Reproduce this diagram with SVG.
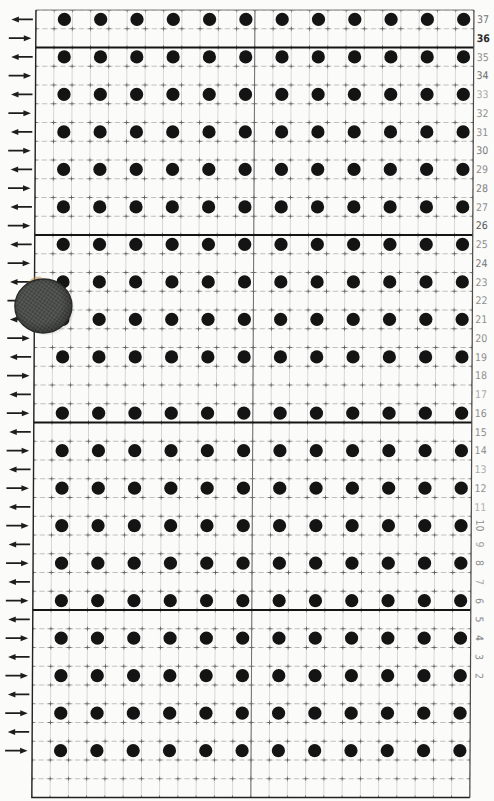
<svg xmlns="http://www.w3.org/2000/svg" xmlns:xlink="http://www.w3.org/1999/xlink" width="494" height="801" viewBox="0 0 494 801">
<style>
.thick{stroke:#151515;stroke-width:2;fill:none}
.border{stroke:#222;stroke-width:1.4;fill:none}
.dot{fill:#141414}
.lbl{font-family:"DejaVu Sans Condensed","DejaVu Sans",sans-serif;font-size:10.5px;fill:#8e8e8e}
.arr{stroke:#1d1d1d;stroke-width:1.6;fill:none}
.head{fill:#1d1d1d}
</style>
<defs>
<pattern id="grid" patternUnits="userSpaceOnUse" x="26.875" y="0.625" width="18.25" height="18.75">
<line x1="9.125" y1="0" x2="9.125" y2="18.75" stroke="#cdcdcd" stroke-width="0.8"/>
<line x1="0" y1="9.375" x2="18.25" y2="9.375" stroke="#b0b0b0" stroke-width="0.8" stroke-dasharray="2.6 2.6"/>
<path d="M7 9.375h4.25M9.125 7.5v3.75" stroke="#666" stroke-width="1"/>
</pattern>
<pattern id="mesh" patternUnits="userSpaceOnUse" width="3.2" height="3.2" patternTransform="rotate(35)">
<rect width="3.2" height="3.2" fill="#404240"/>
<path d="M0 0.6H3.2M0.6 0V3.2" stroke="#5f615d" stroke-width="0.7"/>
</pattern>
<radialGradient id="shade" cx="0.45" cy="0.45" r="0.6">
<stop offset="0.6" stop-color="#000" stop-opacity="0"/>
<stop offset="1" stop-color="#000" stop-opacity="0.35"/>
</radialGradient>
<g id="la"><path class="arr" d="M17 0H33"/><path class="head" d="M11.5 0L19 -3L19 3Z"/></g>
<g id="ra"><path class="arr" d="M9 0H26"/><path class="head" d="M31.5 0L24 -3L24 3Z"/></g>
</defs>
<rect width="494" height="801" fill="#fbfbfa"/>
<g transform="skewX(-0.3)">
<g id="grid-lines">
<rect x="36" y="10" width="438" height="787.5" fill="url(#grid)"/>
<line x1="36" y1="10" x2="474" y2="10" stroke="#7a7a7a" stroke-width="1"/>
<line x1="255" y1="10" x2="255" y2="797.5" stroke="#6e6e6e" stroke-width="1"/>
<path class="thick" d="M36 47.5H474M36 235H474M36 422.5H474M36 610H474"/>
<path class="border" d="M36 10V797.5H474"/>
<line x1="474" y1="10" x2="474" y2="797.5" stroke="#4a4a4a" stroke-width="1.2"/>
</g>
<g id="dots">
<g id="dot-rows-top">
<g transform="translate(0,19.375)"><circle class="dot" cx="64.5" cy="0" r="6.6"/><circle class="dot" cx="100.8" cy="0" r="6.6"/><circle class="dot" cx="137.1" cy="0" r="6.6"/><circle class="dot" cx="173.4" cy="0" r="6.6"/><circle class="dot" cx="209.7" cy="0" r="6.6"/><circle class="dot" cx="246" cy="0" r="6.6"/><circle class="dot" cx="282.3" cy="0" r="6.6"/><circle class="dot" cx="318.6" cy="0" r="6.6"/><circle class="dot" cx="354.9" cy="0" r="6.6"/><circle class="dot" cx="391.2" cy="0" r="6.6"/><circle class="dot" cx="427.5" cy="0" r="6.6"/><circle class="dot" cx="463.8" cy="0" r="6.6"/></g>
</g>
<use xlink:href="#dot-rows-top" y="37.5"/>
<use xlink:href="#dot-rows-top" y="75"/>
<use xlink:href="#dot-rows-top" y="112.5"/>
<use xlink:href="#dot-rows-top" y="150"/>
<use xlink:href="#dot-rows-top" y="187.5"/>
<use xlink:href="#dot-rows-top" y="225"/>
<use xlink:href="#dot-rows-top" y="262.5"/>
<use xlink:href="#dot-rows-top" y="300"/>
<use xlink:href="#dot-rows-top" y="337.5"/>
<use xlink:href="#dot-rows-top" y="393.75"/>
<use xlink:href="#dot-rows-top" y="431.25"/>
<use xlink:href="#dot-rows-top" y="468.75"/>
<use xlink:href="#dot-rows-top" y="506.25"/>
<use xlink:href="#dot-rows-top" y="543.75"/>
<use xlink:href="#dot-rows-top" y="581.25"/>
<use xlink:href="#dot-rows-top" y="618.75"/>
<use xlink:href="#dot-rows-top" y="656.25"/>
<use xlink:href="#dot-rows-top" y="693.75"/>
<use xlink:href="#dot-rows-top" y="731.25"/>
</g>
<g id="arrows">
<use xlink:href="#la" y="19.375"/><use xlink:href="#ra" y="38.125"/>
<use xlink:href="#la" y="56.875"/><use xlink:href="#ra" y="75.625"/>
<use xlink:href="#la" y="94.375"/><use xlink:href="#ra" y="113.125"/>
<use xlink:href="#la" y="131.875"/><use xlink:href="#ra" y="150.625"/>
<use xlink:href="#la" y="169.375"/><use xlink:href="#ra" y="188.125"/>
<use xlink:href="#la" y="206.875"/><use xlink:href="#ra" y="225.625"/>
<use xlink:href="#la" y="244.375"/><use xlink:href="#ra" y="263.125"/>
<use xlink:href="#la" y="281.875"/><use xlink:href="#ra" y="300.625"/>
<use xlink:href="#la" y="319.375"/><use xlink:href="#ra" y="338.125"/>
<use xlink:href="#la" y="356.875"/><use xlink:href="#ra" y="375.625"/>
<use xlink:href="#la" y="394.375"/><use xlink:href="#ra" y="413.125"/>
<use xlink:href="#la" y="431.875"/><use xlink:href="#ra" y="450.625"/>
<use xlink:href="#la" y="469.375"/><use xlink:href="#ra" y="488.125"/>
<use xlink:href="#la" y="506.875"/><use xlink:href="#ra" y="525.625"/>
<use xlink:href="#la" y="544.375"/><use xlink:href="#ra" y="563.125"/>
<use xlink:href="#la" y="581.875"/><use xlink:href="#ra" y="600.625"/>
<use xlink:href="#la" y="619.375"/><use xlink:href="#ra" y="638.125"/>
<use xlink:href="#la" y="656.875"/><use xlink:href="#ra" y="675.625"/>
<use xlink:href="#la" y="694.375"/><use xlink:href="#ra" y="713.125"/>
<use xlink:href="#la" y="731.875"/><use xlink:href="#ra" y="750.625"/>
</g>
<g id="row-numbers">
<text class="lbl" x="477" y="23" style="fill:#707070">37</text>
<text class="lbl" x="477" y="42" style="fill:#2a2a2a;font-weight:bold">36</text>
<text class="lbl" x="477" y="61">35</text>
<text class="lbl" x="477" y="79" style="fill:#6a6a6a">34</text>
<text class="lbl" x="477" y="98" style="fill:#a8a8a8">33</text>
<text class="lbl" x="477" y="117">32</text>
<text class="lbl" x="477" y="136">31</text>
<text class="lbl" x="477" y="154" style="fill:#7a7a7a">30</text>
<text class="lbl" x="477" y="173">29</text>
<text class="lbl" x="477" y="192" style="fill:#7a7a7a">28</text>
<text class="lbl" x="477" y="211">27</text>
<text class="lbl" x="477" y="229" style="fill:#555">26</text>
<text class="lbl" x="477" y="248">25</text>
<text class="lbl" x="477" y="267" style="fill:#777">24</text>
<text class="lbl" x="477" y="286">23</text>
<text class="lbl" x="477" y="304">22</text>
<text class="lbl" x="477" y="323">21</text>
<text class="lbl" x="477" y="342">20</text>
<text class="lbl" x="477" y="361">19</text>
<text class="lbl" x="477" y="379">18</text>
<text class="lbl" x="477" y="398" style="fill:#aaa">17</text>
<text class="lbl" x="477" y="417">16</text>
<text class="lbl" x="477" y="436">15</text>
<text class="lbl" x="477" y="454">14</text>
<text class="lbl" x="477" y="473" style="fill:#aaa">13</text>
<text class="lbl" x="477" y="492">12</text>
<text class="lbl" x="477" y="511" style="fill:#b0b0b0">11</text>
<text class="lbl" transform="translate(479,519.5) rotate(90)">10</text>
<text class="lbl" transform="translate(479,541.5) rotate(90)" style="fill:#a0a0a0">9</text>
<text class="lbl" transform="translate(479,560) rotate(90)">8</text>
<text class="lbl" transform="translate(479,579) rotate(90)" style="fill:#aaa">7</text>
<text class="lbl" transform="translate(479,598) rotate(90)">6</text>
<text class="lbl" transform="translate(479,616.5) rotate(90)">5</text>
<text class="lbl" transform="translate(479,635) rotate(90)" style="fill:#777">4</text>
<text class="lbl" transform="translate(479,654) rotate(90)">3</text>
<text class="lbl" transform="translate(479,673) rotate(90)">2</text>
</g>
<g id="disk">
<ellipse cx="48" cy="309" rx="28" ry="26" fill="#000" opacity="0.06"/>
<path d="M27 286 Q33 274 44 277 Q36 281 31 290 Z" fill="#c9914a" opacity="0.55"/>
<ellipse cx="45" cy="306" rx="28.5" ry="27" fill="url(#mesh)"/>
<ellipse cx="45" cy="306" rx="28.5" ry="27" fill="url(#shade)" stroke="#2a2b29" stroke-width="1.4"/>
</g>
</g>
</svg>
